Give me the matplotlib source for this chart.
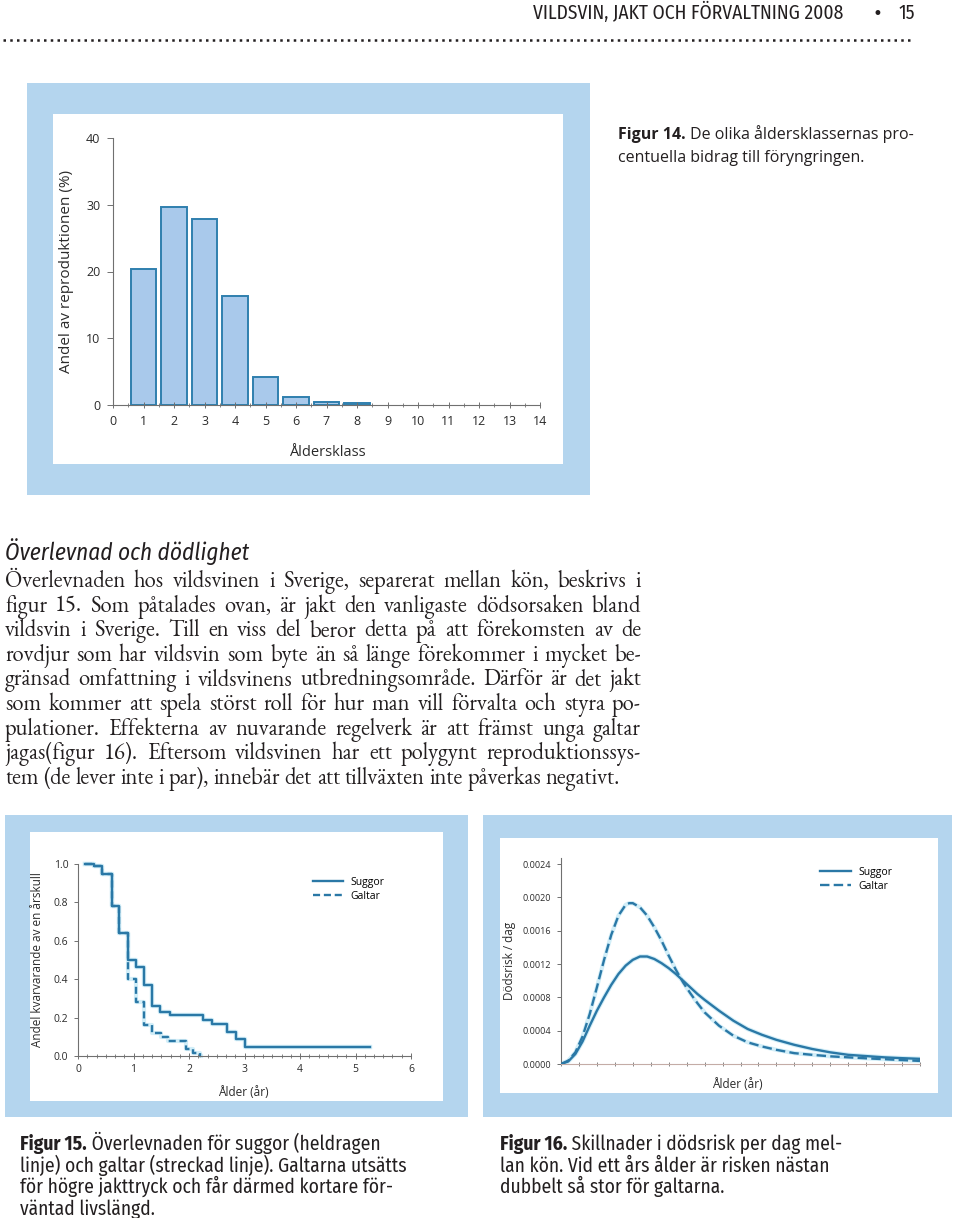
import numpy as np
import matplotlib
matplotlib.use('Agg')
import matplotlib.pyplot as plt
from matplotlib import font_manager
from matplotlib.patches import Rectangle
from matplotlib.lines import Line2D
from matplotlib.ticker import MultipleLocator, FormatStrFormatter

W, H = 960, 1218

# --- Figur 14: andel av reproduktionen per åldersklass
age_classes = [1, 2, 3, 4, 5, 6, 7, 8]
reproduction = [20.3, 29.6, 27.8, 16.3, 4.2, 1.2, 0.5, 0.35]

# --- Figur 15: överlevnad (steg), tid i år där kurvan ändras
sow_t = [0.13, 0.28, 0.44, 0.61, 0.745, 0.895, 1.045, 1.19, 1.33, 1.48, 1.65, 2.25, 2.41, 2.69, 2.85, 3.01, 5.26]
sow_s = [1.0, 0.99, 0.946, 0.78, 0.64, 0.50, 0.465, 0.37, 0.26, 0.23, 0.213, 0.188, 0.165, 0.127, 0.087, 0.048, 0.048]
boar_t = [0.13, 0.28, 0.44, 0.61, 0.745, 0.895, 1.045, 1.19, 1.34, 1.49, 1.62, 1.95, 2.08, 2.2, 2.22]
boar_s = [1.0, 0.99, 0.946, 0.78, 0.64, 0.40, 0.283, 0.16, 0.118, 0.098, 0.078, 0.038, 0.018, 0.0, 0.0]

# --- Figur 16: dödsrisk per dag
sow_age = [0.0, 0.1, 0.2, 0.3, 0.4, 0.5, 0.6, 0.7, 0.8, 0.9, 1.0, 1.1, 1.2, 1.3, 1.4, 1.5, 1.6, 1.7, 1.8, 1.9,
           2.0, 2.2, 2.4, 2.6, 2.8, 3.0, 3.25, 3.5, 3.75, 4.0, 4.25, 4.5, 4.75, 5.0]
sow_risk = [0.0, 0.00003, 0.00012, 0.00027, 0.00046, 0.00064, 0.00080, 0.00095, 0.00108, 0.00118, 0.00125,
            0.00129, 0.00129, 0.00126, 0.00121, 0.00115, 0.00108, 0.00100, 0.00092, 0.00084, 0.00077,
            0.00064, 0.00052, 0.00042, 0.00035, 0.00029, 0.00023, 0.00018, 0.00014, 0.00011, 0.000095,
            0.00008, 0.00007, 0.000062]
boar_age = [0.0, 0.1, 0.2, 0.3, 0.4, 0.5, 0.6, 0.7, 0.8, 0.9, 0.95, 1.0, 1.1, 1.2, 1.3, 1.4, 1.5, 1.6, 1.7, 1.8,
            1.9, 2.0, 2.2, 2.4, 2.6, 2.8, 3.0, 3.25, 3.5, 3.75, 4.0, 4.25, 4.5, 4.75, 5.0]
boar_risk = [0.0, 0.00004, 0.00014, 0.00033, 0.00060, 0.00092, 0.00125, 0.00155, 0.00178, 0.00191, 0.00193,
             0.00193, 0.00188, 0.00178, 0.00164, 0.00148, 0.00130, 0.00113, 0.00098, 0.00085, 0.00073,
             0.00062, 0.00046, 0.00034, 0.00026, 0.00021, 0.00017, 0.00013, 0.00011, 0.000092, 0.00008,
             0.000068, 0.000058, 0.000047, 0.000037]

header = 'VILDSVIN, JAKT OCH FÖRVALTNING 2008'
page_no = '15'
heading = 'Överlevnad och dödlighet'
body = [
    'Överlevnaden hos vildsvinen i Sverige, separerat mellan kön, beskrivs i',
    'figur 15. Som påtalades ovan, är jakt den vanligaste dödsorsaken bland',
    'vildsvin i Sverige. Till en viss del beror detta på att förekomsten av de',
    'rovdjur som har vildsvin som byte än så länge förekommer i mycket be-',
    'gränsad omfattning i vildsvinens utbredningsområde. Därför är det jakt',
    'som kommer att spela störst roll för hur man vill förvalta och styra po-',
    'pulationer. Effekterna av nuvarande regelverk är att främst unga galtar',
    'jagas(figur 16). Eftersom vildsvinen har ett polygynt reproduktionssys-',
    'tem (de lever inte i par), innebär det att tillväxten inte påverkas negativt.',
]
cap14 = [('Figur 14.', ' De olika åldersklassernas pro-'), ('', 'centuella bidrag till föryngringen.')]
cap15 = [('Figur 15.', ' Överlevnaden för suggor (heldragen'), ('', 'linje) och galtar (streckad linje). Galtarna utsätts'),
         ('', 'för högre jakttryck och får därmed kortare för-'), ('', 'väntad livslängd.')]
cap16 = [('Figur 16.', ' Skillnader i dödsrisk per dag mel-'), ('', 'lan kön. Vid ett års ålder är risken nästan'),
         ('', 'dubbelt så stor för galtarna.')]

names = {f.name for f in font_manager.fontManager.ttflist}


def pick(cands, default):
    for c in cands:
        if c in names:
            return c
    return default


NARROW = pick(['Fira Sans Condensed', 'PT Sans Narrow', 'Asap Condensed', 'Barlow Semi Condensed',
               'Archivo Narrow', 'Liberation Sans Narrow'], 'DejaVu Sans')
NFS = 14 if NARROW != 'DejaVu Sans' else 11.3
SERIF = pick(['EB Garamond', 'Cormorant Garamond', 'Liberation Serif'], 'DejaVu Serif')
SANS = pick(['Open Sans', 'Noto Sans'], 'DejaVu Sans')
plt.rcParams['font.family'] = [SANS, 'DejaVu Sans']

INK = '#231f20'
PANEL = '#b4d5ee'
BAR_FILL = '#a9c9eb'
BAR_EDGE = '#2f7fae'
LINE = '#2a78a6'
HALO = '#d2eef8'
AXC = '#707070'
LAB = '#2b2b2b'


def px(x): return x / W
def py(y): return 1 - y / H


fig = plt.figure(figsize=(W / 100, H / 100), dpi=100)
renderer = fig.canvas.get_renderer()
nkw = dict(family=NARROW, color=INK, va='baseline')

# sidhuvud
fig.text(px(843), py(19), header, fontsize=NFS, ha='right', **nkw)
fig.text(px(877), py(19), '•', family='DejaVu Sans', fontsize=12, color=INK, ha='center', va='baseline')
fig.text(px(915), py(19), page_no, fontsize=NFS, ha='right', **nkw)
fig.add_artist(Line2D([px(3), px(913)], [py(40), py(40)], transform=fig.transFigure, color=INK,
                      lw=1.8, linestyle=(0, (1, 1.7))))

# paneler
for (x0, y0, x1, y1), (ix0, iy0, ix1, iy1) in [((27, 83, 590, 495), (53, 114, 563, 464)),
                                                ((5, 815, 468, 1117), (30, 832, 443, 1101)),
                                                ((483, 815, 952, 1117), (500, 838, 938, 1093))]:
    fig.add_artist(Rectangle((px(x0), py(y1)), (x1 - x0) / W, (y1 - y0) / H, transform=fig.transFigure,
                             facecolor=PANEL, edgecolor='none', zorder=-2))
    fig.add_artist(Rectangle((px(ix0), py(iy1)), (ix1 - ix0) / W, (iy1 - iy0) / H, transform=fig.transFigure,
                             facecolor='white', edgecolor='none', zorder=-1))


def style_axes(ax, spine_col=AXC):
    ax.patch.set_visible(False)
    for s in ['top', 'right']:
        ax.spines[s].set_visible(False)
    for s in ['left', 'bottom']:
        ax.spines[s].set_color(spine_col)
        ax.spines[s].set_linewidth(0.8)


# --- Figur 14
ax1 = fig.add_axes([px(113), py(405), (540 - 113) / W, (405 - 138) / H])
ax1.bar(age_classes, reproduction, width=0.84, color=BAR_FILL, edgecolor=BAR_EDGE, linewidth=1.4)
ax1.set_xlim(0, 14)
ax1.set_ylim(0, 40)
style_axes(ax1)
ax1.set_xticks(range(0, 15))
ax1.xaxis.set_minor_locator(MultipleLocator(0.5))
ax1.set_yticks([0, 10, 20, 30, 40])
ax1.tick_params(axis='x', which='major', direction='inout', length=5, width=0.7, color=AXC,
                labelsize=9, labelcolor=LAB, pad=5)
ax1.tick_params(axis='x', which='minor', direction='inout', length=3, width=0.6, color=AXC)
ax1.tick_params(axis='y', direction='out', length=4, width=0.7, color=AXC, labelsize=9,
                labelcolor=LAB, pad=5)
ax1.set_xlabel('Åldersklass', fontsize=10.5, color=LAB)
ax1.xaxis.set_label_coords((327 - 113) / 427, -(452 - 405) / 267)
ax1.set_ylabel('Andel av reproduktionen (%)', fontsize=11, color=LAB)
ax1.yaxis.set_label_coords(-(113 - 67) / 427, 0.5)
for lab in [ax1.xaxis.label, ax1.yaxis.label]:
    lab.set_va('center')

for i, (b, rest) in enumerate(cap14):
    y = py(139 + 23 * i)
    wb = 0
    if b:
        t = fig.text(px(618), y, b, family=SANS, fontsize=11.5, weight='bold', color=INK, va='baseline')
        wb = t.get_window_extent(renderer).width
    fig.text(px(618 + wb), y, rest, family=SANS, fontsize=11.5, color=INK, va='baseline')

# --- Figur 15
ax2 = fig.add_axes([px(78), py(1056), (411 - 78) / W, (1056 - 864) / H])
ax2.step(sow_t, sow_s, where='post', color=HALO, lw=3.2, zorder=1, clip_on=False)
ax2.step(boar_t, boar_s, where='post', color=HALO, lw=3.0, zorder=1, clip_on=False)
ax2.step(sow_t, sow_s, where='post', color=LINE, lw=1.7, label='Suggor', zorder=3, clip_on=False)
ax2.step(boar_t, boar_s, where='post', color=LINE, lw=1.7, ls=(0, (3, 1.6)), label='Galtar', zorder=2,
         clip_on=False)
ax2.set_xlim(0, 6)
ax2.set_ylim(0, 1)
style_axes(ax2)
ax2.set_xticks(range(0, 7))
ax2.xaxis.set_minor_locator(MultipleLocator(1 / 6))
ax2.set_yticks(np.arange(0, 1.01, 0.2))
ax2.yaxis.set_major_formatter(FormatStrFormatter('%.1f'))
ax2.tick_params(axis='x', which='major', direction='inout', length=4, width=0.7, color=AXC,
                labelsize=7.5, labelcolor=LAB, pad=4)
ax2.tick_params(axis='x', which='minor', direction='inout', length=3, width=0.6, color=AXC)
ax2.tick_params(axis='y', direction='out', length=3, width=0.7, color=AXC, labelsize=7.5,
                labelcolor=LAB, pad=4)
ax2.set_xlabel('Ålder (år)', fontsize=8.5, color=LAB)
ax2.xaxis.set_label_coords((243 - 78) / 333, -(1093 - 1056) / 192)
ax2.set_ylabel('Andel kvarvarande av en årskull', fontsize=8.5, color=LAB)
ax2.yaxis.set_label_coords(-(78 - 38) / 333, 0.5)
for lab in [ax2.xaxis.label, ax2.yaxis.label]:
    lab.set_va('center')
ax2.legend(loc='upper left', bbox_to_anchor=((313 - 78) / 333, (1056 - 877) / 192), frameon=False,
           fontsize=7.5, handlelength=2.9, handletextpad=0.7, labelspacing=0.3, borderpad=0, borderaxespad=0)

# --- Figur 16
ytop = 0.0024 * 206 / 200
ax3 = fig.add_axes([px(561), py(1064), (920 - 561) / W, (1064 - 858) / H])
ax3.plot(sow_age, sow_risk, color=HALO, lw=3.2, zorder=1)
ax3.plot(boar_age, boar_risk, color=HALO, lw=3.0, zorder=1)
ax3.plot(sow_age, sow_risk, color=LINE, lw=1.7, label='Suggor', zorder=3)
ax3.plot(boar_age, boar_risk, color=LINE, lw=1.7, ls=(0, (4, 1.8)), label='Galtar', zorder=2)
ax3.set_xlim(0, 5)
ax3.set_ylim(0, ytop)
style_axes(ax3)
ax3.spines['bottom'].set_color('#c4aca6')
ax3.set_xticks(np.arange(0, 5.01, 0.25))
ax3.set_xticklabels([])
ax3.set_yticks(np.arange(0, 0.00241, 0.0004))
ax3.yaxis.set_major_formatter(FormatStrFormatter('%.4f'))
ax3.tick_params(axis='x', direction='inout', length=3, width=0.6, color=AXC)
ax3.tick_params(axis='y', direction='out', length=3, width=0.7, color=AXC, labelsize=6.5,
                labelcolor=LAB, pad=4)
ax3.set_xlabel('Ålder (år)', fontsize=8.5, color=LAB)
ax3.xaxis.set_label_coords((737 - 561) / 359, -(1084 - 1064) / 206)
ax3.set_ylabel('Dödsrisk / dag', fontsize=8.5, color=LAB)
ax3.yaxis.set_label_coords(-(561 - 510) / 359, 0.5)
for lab in [ax3.xaxis.label, ax3.yaxis.label]:
    lab.set_va('center')
ax3.legend(loc='upper left', bbox_to_anchor=((820 - 561) / 359, (1064 - 867) / 206), frameon=False,
           fontsize=7.5, handlelength=3.0, handletextpad=0.7, labelspacing=0.3, borderpad=0, borderaxespad=0)

# --- brödtext
fig.text(px(5), py(560), heading, style='italic', fontsize=NFS + 2.7, **nkw)


def justified(lines, x0, x1, y0, step, **kw):
    sp = fig.text(0, 0, 'x x', **kw)
    nsp = fig.text(0, 0, 'xx', **kw)
    space = sp.get_window_extent(renderer).width - nsp.get_window_extent(renderer).width
    sp.remove(); nsp.remove()
    for i, line in enumerate(lines):
        y = py(y0 + step * i)
        words = line.split(' ')
        texts = [fig.text(0, y, w, va='baseline', **kw) for w in words]
        widths = [t.get_window_extent(renderer).width for t in texts]
        gap = (x1 - x0 - sum(widths)) / (len(words) - 1)
        if i == len(lines) - 1:
            gap = min(gap, space * 1.05)
        x = x0
        for t, w in zip(texts, widths):
            t.set_x(px(x))
            x += w + gap


justified(body, 5, 641, 587, 24.6, family=SERIF, weight='medium',
          fontsize=16.3 if SERIF == 'EB Garamond' else 15, color=INK)


def caption(lines, x0, y0, step):
    for i, (b, rest) in enumerate(lines):
        y = py(y0 + step * i)
        wb = 0
        if b:
            t = fig.text(px(x0), y, b, fontsize=NFS, weight='bold', **nkw)
            wb = t.get_window_extent(renderer).width
        fig.text(px(x0 + wb), y, rest, fontsize=NFS, **nkw)


caption(cap15, 20, 1150, 21.6)
caption(cap16, 500, 1150, 21.6)

fig.savefig('out.png', dpi=100)
